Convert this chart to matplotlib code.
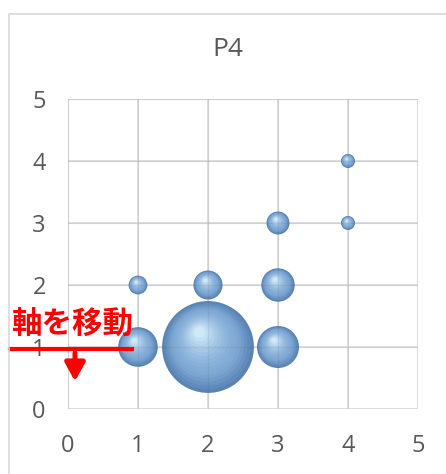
import numpy as np
import matplotlib
matplotlib.use("Agg")
import matplotlib.pyplot as plt
from matplotlib.patches import Rectangle
from matplotlib.colors import to_rgb
import matplotlib.transforms as mtransforms

plt.rcParams['font.family'] = ['Open Sans', 'Noto Sans CJK JP', 'DejaVu Sans']

# data
x_vals = [1, 2, 3, 1, 2, 3, 3, 4, 4]
y_vals = [1, 1, 1, 2, 2, 2, 3, 3, 4]
bubble_size = [8, 43, 9, 1.8, 4.3, 5.7, 2.7, 1, 1]
ticks = [0, 1, 2, 3, 4, 5]
title = "P4"
note = "軸を移動"

W, H, DPI = 446, 474, 100
fig = plt.figure(figsize=(W / DPI, H / DPI), dpi=DPI)
fig.patch.set_facecolor("white")

# chart frame
fig.patches.append(Rectangle((9 / W, -0.1), 1.2, 1 - 14 / H + 0.1, transform=fig.transFigure,
                             fill=False, edgecolor="#d9d9d9", lw=1.2))

ax = fig.add_axes([68 / W, 1 - 409 / H, 350 / W, 310 / H])
ax.set_xlim(0, 5)
ax.set_ylim(0, 5)
ax.set_xticks(ticks)
ax.set_yticks(ticks)
ax.grid(True, color="#d9d9d9", lw=1.2)
ax.set_axisbelow(True)
for s in ax.spines.values():
    s.set_visible(False)
ax.tick_params(length=0, labelsize=17, colors="#595959")
ax.tick_params(axis="x", pad=18)
ax.tick_params(axis="y", pad=16)

# bubbles drawn as layered circles for a sphere look
px_per_unit = 7.0
c_edge = np.array(to_rgb("#5883b4"))
c_mid = np.array(to_rgb("#7fa8d5"))
c_hi = np.array(to_rgb("#cfe9f8"))
n_layers = 16
for x, y, sz in zip(x_vals, y_vals, bubble_size):
    r_px = px_per_unit * np.sqrt(sz)
    for i in range(n_layers):
        t = i / (n_layers - 1)
        frac = 1.0 - 0.88 * t
        if t < 0.3:
            col = c_edge + (c_mid - c_edge) * (t / 0.3)
        else:
            col = c_mid + (c_hi - c_mid) * ((t - 0.3) / 0.7) ** 1.5
        dx = -0.18 * t * r_px
        dy = 0.32 * t * r_px
        tr = ax.transData + mtransforms.Affine2D().translate(dx, dy)
        d_pt = 2 * r_px * frac * 72 / DPI
        ax.scatter([x], [y], s=d_pt ** 2, color=col, edgecolors="none",
                   transform=tr, zorder=3, clip_on=False)

# faint gridlines visible through bubbles
for v in ticks:
    ax.axhline(v, color="#505050", lw=1, alpha=0.1, zorder=4)
    ax.axvline(v, color="#505050", lw=1, alpha=0.1, zorder=4)

fig.text(228 / W, 1 - 50 / H, title, ha="center", va="center", fontsize=19, color="#595959")

# annotation (overlaps the "1" tick label, as in the reference)
ax.text(-0.82, 1.1, note, color="red", fontsize=22, fontweight="bold",
        family=["Noto Sans CJK JP"], ha="left", va="bottom", clip_on=False, zorder=6)
ax.plot([-0.83, 0.92], [0.97, 0.97], color="red", lw=3, clip_on=False, zorder=6)
ax.annotate("", xy=(0.1, 0.4), xytext=(0.1, 0.95),
            arrowprops=dict(arrowstyle="-|>,head_width=0.6,head_length=1.1",
                            color="red", lw=3.6), zorder=6, annotation_clip=False)

fig.savefig("out.png", dpi=DPI)
